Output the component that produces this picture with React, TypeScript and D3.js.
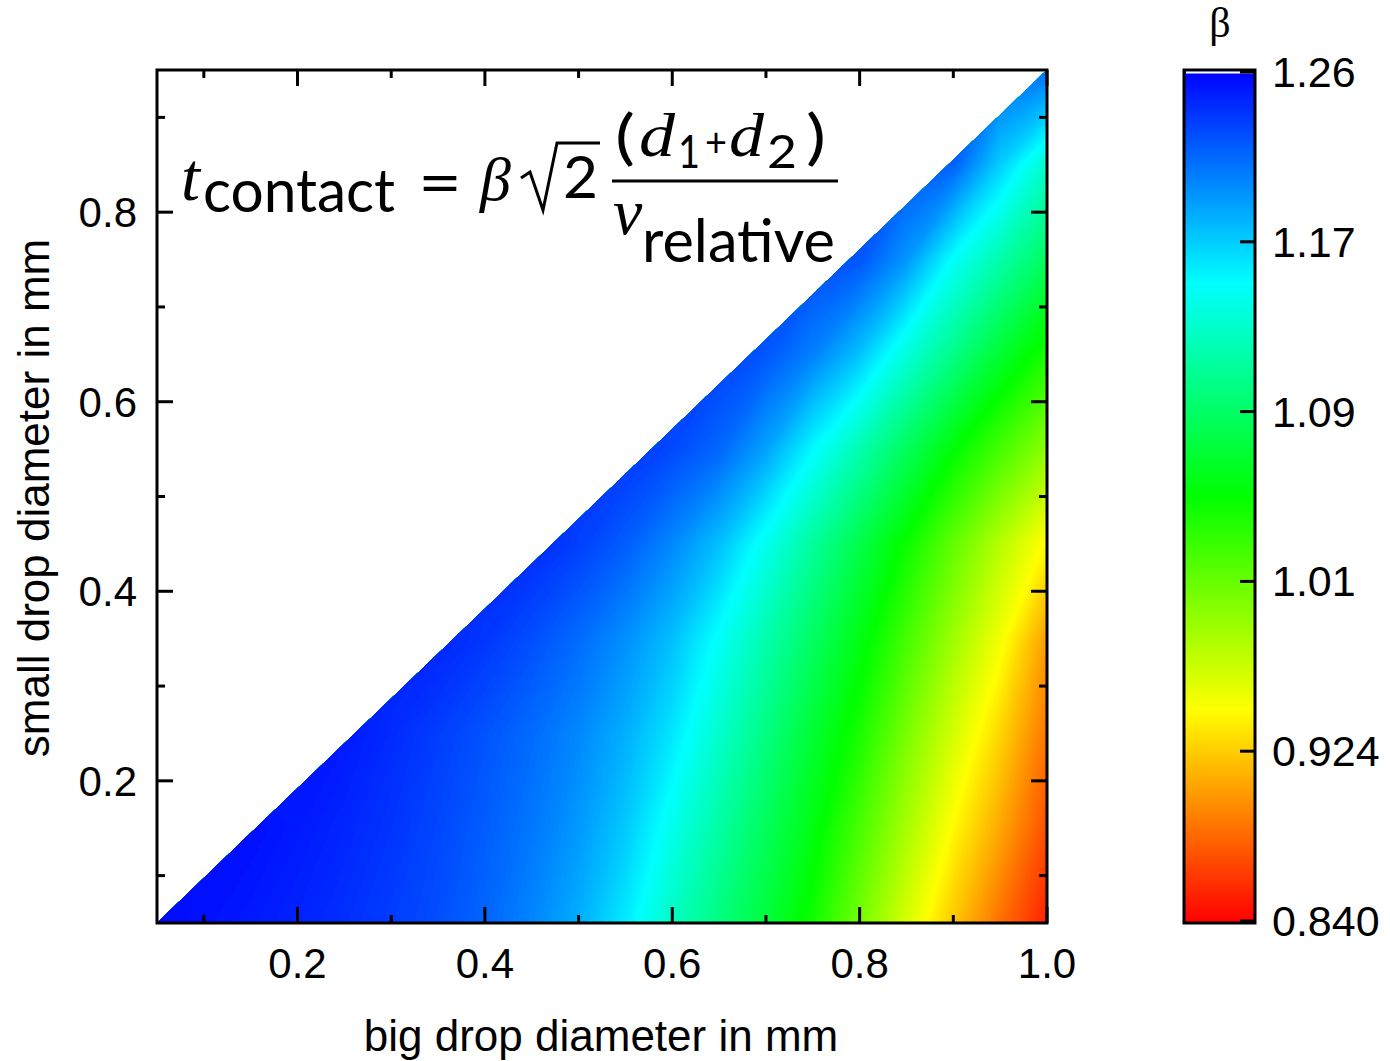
import React, { useEffect, useRef } from "react";
import * as d3 from "d3";

// grid: beta at each big-drop diameter (columns) per small-drop row
const xCols = [0.05, 0.1, 0.15, 0.2, 0.25, 0.3, 0.35, 0.4, 0.45, 0.5, 0.55, 0.6, 0.65, 0.7, 0.75, 0.8, 0.85, 0.9, 0.95, 1.0];
const yRows = [0.05, 0.15, 0.25, 0.35, 0.45, 0.55, 0.65, 0.75, 0.85, 0.95];

const betaY005 = [1.256, 1.253, 1.25, 1.246, 1.241, 1.235, 1.228, 1.218, 1.205, 1.188, 1.163, 1.13, 1.102, 1.074, 1.043, 1.002, 0.961, 0.922, 0.886, 0.853];
const betaY015 = [null, null, 1.254, 1.25, 1.245, 1.239, 1.231, 1.222, 1.211, 1.197, 1.177, 1.147, 1.117, 1.087, 1.057, 1.02, 0.981, 0.943, 0.909, 0.872];
const betaY025 = [null, null, null, null, 1.25, 1.243, 1.235, 1.226, 1.216, 1.204, 1.188, 1.165, 1.134, 1.103, 1.071, 1.04, 1.0, 0.963, 0.928, 0.888];
const betaY035 = [null, null, null, null, null, null, 1.245, 1.238, 1.228, 1.216, 1.201, 1.181, 1.152, 1.121, 1.09, 1.058, 1.022, 0.985, 0.95, 0.905];
const betaY045 = [null, null, null, null, null, null, null, null, 1.243, 1.234, 1.222, 1.204, 1.181, 1.148, 1.114, 1.08, 1.046, 1.01, 0.975, 0.942];
const betaY055 = [null, null, null, null, null, null, null, null, null, null, 1.238, 1.23, 1.218, 1.193, 1.157, 1.122, 1.087, 1.052, 1.022, 0.992];
const betaY065 = [null, null, null, null, null, null, null, null, null, null, null, null, 1.234, 1.225, 1.207, 1.18, 1.14, 1.105, 1.07, 1.04];
const betaY075 = [null, null, null, null, null, null, null, null, null, null, null, null, null, null, 1.23, 1.225, 1.198, 1.153, 1.12, 1.088];
const betaY085 = [null, null, null, null, null, null, null, null, null, null, null, null, null, null, null, null, 1.226, 1.22, 1.175, 1.133];
const betaY095 = [null, null, null, null, null, null, null, null, null, null, null, null, null, null, null, null, null, null, 1.218, 1.215];
const betaRows = [betaY005, betaY015, betaY025, betaY035, betaY045, betaY055, betaY065, betaY075, betaY085, betaY095];

const xMajor = [0.2, 0.4, 0.6, 0.8, 1.0];
const xMinor = [0.1, 0.3, 0.5, 0.7, 0.9];
const yMajor = [0.2, 0.4, 0.6, 0.8];
const yMinor = [0.1, 0.3, 0.5, 0.7, 0.9];

const barTicks = [0.84, 0.924, 1.008, 1.092, 1.176, 1.26];
const barLabels = ["0.840", "0.924", "1.01", "1.09", "1.17", "1.26"];

const colorStops = [0.84, 0.945, 1.05, 1.155, 1.26];
const colorRange = ["#ff0000", "#ffff00", "#00ff00", "#00ffff", "#0000ff"];

const W = 1390;
const H = 1061;
const SANS = "'Liberation Sans', Arial, sans-serif";
const MATH = "Lato, 'Open Sans', sans-serif";
const SERIF = "'Liberation Serif', 'Times New Roman', serif";

export default function App() {
  const ref = useRef<SVGSVGElement>(null);

  useEffect(() => {
    const svg = d3.select(ref.current);
    svg.selectAll("*").remove();

    const x = d3.scaleLinear().domain([0.05, 1.0]).range([157, 1047]);
    const y = d3.scaleLinear().domain([0.05, 0.95]).range([923, 70]);
    const cb = d3.scaleLinear().domain([0.84, 1.26]).range([921, 72]);
    const color = d3.scaleLinear<string>().domain(colorStops).range(colorRange);

    const defs = svg.append("defs");
    defs.append("clipPath").attr("id", "tri")
      .append("polygon")
      .attr("points", [[x(0.05), y(0.05)], [x(1.0), y(0.05)], [x(1.0), y(0.95)]].map(p => p.join(",")).join(" "));

    const grad = defs.append("linearGradient").attr("id", "cbar")
      .attr("x1", 0).attr("y1", 1).attr("x2", 0).attr("y2", 0);
    grad.selectAll("stop").data(colorStops).join("stop")
      .attr("offset", d => (d - 0.84) / 0.42)
      .attr("stop-color", d => color(d));

    // heat map as filled contour bands
    const nx = xCols.length, ny = yRows.length;
    const grid = betaRows.map(r => {
      const first = r.find(v => v != null) as number;
      return r.map(v => (v == null ? first : v));
    }).flat();
    const dx = xCols[1] - xCols[0];
    const dy = yRows[1] - yRows[0];
    const bands = d3.contours().size([nx, ny]).thresholds(d3.range(0.84, 1.26, 0.0015))(grid);
    const proj = d3.geoTransform({
      point: function (px, py) {
        this.stream.point(x(xCols[0] + (px - 0.5) * dx), y(yRows[0] + (py - 0.5) * dy));
      }
    });
    const path = d3.geoPath(proj);

    svg.append("g").attr("clip-path", "url(#tri)")
      .selectAll("path").data(bands).join("path")
      .attr("d", path as any)
      .attr("fill", d => color(d.value + 0.00075));

    // frame + ticks
    const axes = svg.append("g").attr("stroke", "#000").attr("stroke-width", 3);
    axes.append("rect").attr("x", 157).attr("y", 70).attr("width", 890).attr("height", 853).attr("fill", "none");
    const tick = (arr: number[], len: number) => {
      arr.forEach(v => {
        axes.append("line").attr("x1", x(v)).attr("x2", x(v)).attr("y1", 923).attr("y2", 923 - len);
        axes.append("line").attr("x1", x(v)).attr("x2", x(v)).attr("y1", 70).attr("y2", 70 + len);
      });
    };
    const tickY = (arr: number[], len: number) => {
      arr.forEach(v => {
        axes.append("line").attr("y1", y(v)).attr("y2", y(v)).attr("x1", 157).attr("x2", 157 + len);
        axes.append("line").attr("y1", y(v)).attr("y2", y(v)).attr("x1", 1047).attr("x2", 1047 - len);
      });
    };
    tick(xMajor, 16);
    tick(xMinor, 8);
    tickY(yMajor, 16);
    tickY(yMinor, 8);

    svg.append("g").selectAll("text").data(xMajor).join("text")
      .attr("x", d => x(d)).attr("y", 978)
      .attr("text-anchor", "middle").attr("font-family", SANS).attr("font-size", 42)
      .text(d => d3.format(".1f")(d));
    svg.append("g").selectAll("text").data(yMajor).join("text")
      .attr("x", 137).attr("y", d => y(d) + 15)
      .attr("text-anchor", "end").attr("font-family", SANS).attr("font-size", 42)
      .text(d => d3.format(".1f")(d));

    svg.append("text").attr("x", 601).attr("y", 1051)
      .attr("text-anchor", "middle").attr("font-family", SANS).attr("font-size", 44)
      .text("big drop diameter in mm");
    svg.append("text").attr("transform", "translate(49,498) rotate(-90)")
      .attr("text-anchor", "middle").attr("font-family", SANS).attr("font-size", 44)
      .text("small drop diameter in mm");

    // color bar
    svg.append("rect").attr("x", 1184).attr("y", 70).attr("width", 71).attr("height", 853)
      .attr("fill", "url(#cbar)").attr("stroke", "#000").attr("stroke-width", 3);
    svg.append("line").attr("x1", 1186).attr("x2", 1253).attr("y1", 72.5).attr("y2", 72.5)
      .attr("stroke", "#fff").attr("stroke-width", 2);
    svg.append("g").attr("stroke", "#000").attr("stroke-width", 3)
      .selectAll("line").data(barTicks).join("line")
      .attr("x1", 1240).attr("x2", 1255).attr("y1", d => cb(d)).attr("y2", d => cb(d));
    svg.append("g").selectAll("text").data(barTicks).join("text")
      .attr("x", 1272).attr("y", d => cb(d) + 15)
      .attr("font-family", SANS).attr("font-size", 43)
      .text((d, i) => barLabels[i]);
    svg.append("text").attr("x", 1220).attr("y", 37).attr("text-anchor", "middle")
      .attr("font-family", SERIF).attr("font-size", 42).text("β");

    // formula
    const f = svg.append("g").attr("fill", "#000");
    const put = (t: string, px: number, py: number, size: number, fam: string, italic = false, len?: number) => {
      const el = f.append("text").attr("x", px).attr("y", py).attr("font-size", size)
        .attr("font-family", fam).attr("font-style", italic ? "italic" : "normal").text(t);
      if (len) el.attr("textLength", len).attr("lengthAdjust", "spacingAndGlyphs");
    };
    put("t", 181, 200, 68, SERIF, true);
    put("contact", 203, 212, 60, MATH, false, 192);
    put("=", 418, 205, 62, MATH, false, 44);
    put("β", 480, 200, 62, SERIF, true);
    f.append("path").attr("d", "M521,178 L530,172 L543,210 L557,143 L600,143")
      .attr("fill", "none").attr("stroke", "#000").attr("stroke-width", 3);
    put("2", 563, 198, 58, MATH, false, 35);
    f.append("line").attr("x1", 612).attr("x2", 838).attr("y1", 181).attr("y2", 181)
      .attr("stroke", "#000").attr("stroke-width", 3);

    // numerator pieces
    put("(", 615, 158, 60, MATH, false, 20);
    put("d", 639, 156, 62, SERIF, true, 36);
    put("1", 678, 168, 46, MATH, false, 22);
    put("+", 705, 157, 40, MATH, false, 22);
    put("d", 729, 156, 62, SERIF, true, 35);
    put("2", 767, 168, 46, MATH, false, 30);
    put(")", 806, 158, 60, MATH, false, 20);

    put("v", 613, 234, 66, SERIF, true);
    put("relative", 642, 262, 60, MATH, false, 193);
  }, []);

  return (
    <svg ref={ref} width={W} height={H} style={{ position: "absolute", left: 0, top: 0, background: "#fff" }} />
  );
}
